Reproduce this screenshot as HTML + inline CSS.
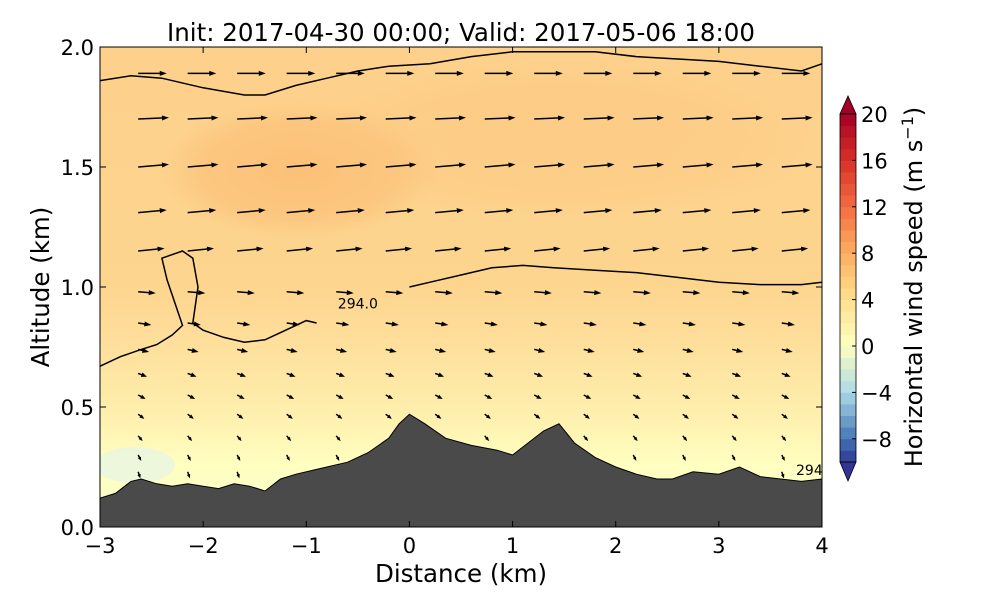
<!DOCTYPE html>
<html><head><meta charset="utf-8"><style>
body{margin:0;background:#fff;font-family:"DejaVu Sans",sans-serif}
svg text{font-family:"DejaVu Sans",sans-serif}
</style></head><body>
<svg id="c" width="1000" height="600" viewBox="0 0 1000 600">
<defs>
<linearGradient id="bg" x1="0" y1="47" x2="0" y2="527" gradientUnits="userSpaceOnUse">
<stop offset="0" stop-color="#fdd08b"/>
<stop offset="0.5" stop-color="#fdd58f"/>
<stop offset="0.66" stop-color="#fee3a0"/>
<stop offset="0.78" stop-color="#fff1b0"/>
<stop offset="0.87" stop-color="#ffffc0"/>
<stop offset="1" stop-color="#f6fbcc"/>
</linearGradient>
<radialGradient id="blob" cx="0.5" cy="0.5" r="0.5">
<stop offset="0" stop-color="#fcc078" stop-opacity="1"/>
<stop offset="0.7" stop-color="#fcc47c" stop-opacity="0.8"/>
<stop offset="1" stop-color="#fcc880" stop-opacity="0"/>
</radialGradient>
<clipPath id="pc"><rect x="100" y="47" width="722" height="480"/></clipPath>
</defs>
<text x="461" y="41" font-size="24.5" text-anchor="middle">Init: 2017-04-30 00:00; Valid: 2017-05-06 18:00</text>
<g clip-path="url(#pc)" id="plot">
<rect x="100" y="47" width="722" height="480" fill="url(#bg)"/>
<ellipse cx="300" cy="170" rx="140" ry="70" fill="url(#blob)"/>
<ellipse cx="560" cy="140" rx="260" ry="80" fill="url(#blob)" opacity="0.35"/>
<ellipse cx="135" cy="465" rx="40" ry="18" fill="#e8f5e2" opacity="0.8"/>
</g>
<rect x="100" y="47" width="722" height="480" fill="none" stroke="#000" stroke-width="1"/>
<g id="axes"></g>
<g id="cb"></g>
</svg>
<script>
const NS="http://www.w3.org/2000/svg";
const xTicks=[-3,-2,-1,0,1,2,3,4];
const yTicks=[0.0,0.5,1.0,1.5,2.0];
const terrainX=[-3,-2.85,-2.7,-2.6,-2.45,-2.3,-2.15,-2,-1.85,-1.7,-1.55,-1.4,-1.25,-1.1,-0.9,-0.6,-0.4,-0.2,-0.1,0,0.15,0.35,0.6,0.85,1.0,1.15,1.3,1.45,1.6,1.8,2.0,2.2,2.4,2.55,2.75,3.0,3.2,3.4,3.6,3.8,4];
const terrainZ=[0.12,0.14,0.19,0.2,0.18,0.17,0.18,0.17,0.16,0.18,0.17,0.15,0.2,0.22,0.24,0.27,0.31,0.37,0.43,0.47,0.43,0.37,0.34,0.32,0.3,0.35,0.4,0.43,0.35,0.29,0.25,0.22,0.2,0.2,0.23,0.22,0.25,0.21,0.2,0.19,0.2];
const contourTopX=[-3,-2.7,-2.4,-2,-1.6,-1.4,-1.1,-0.8,-0.5,-0.2,0.2,0.6,1,1.4,1.8,2.2,2.6,3,3.4,3.8,4];
const contourTopZ=[1.86,1.88,1.87,1.83,1.8,1.8,1.84,1.87,1.9,1.92,1.93,1.96,1.98,1.98,1.98,1.96,1.95,1.94,1.92,1.9,1.93];
const contourMidX=[0,0.2,0.5,0.8,1.1,1.4,1.8,2.2,2.6,3,3.4,3.8,4];
const contourMidZ=[1.0,1.02,1.05,1.08,1.09,1.08,1.07,1.06,1.04,1.02,1.01,1.01,1.02];
const contourLeftX=[-3,-2.8,-2.6,-2.45,-2.3,-2.2,-2.35,-2.4,-2.2,-2.1,-2.05,-2.1,-2.0,-1.8,-1.6,-1.4,-1.2,-1.0,-0.9];
const contourLeftZ=[0.67,0.71,0.74,0.76,0.8,0.84,1.03,1.12,1.15,1.12,1.0,0.85,0.82,0.79,0.77,0.78,0.82,0.86,0.85];
const arrowCols=[-2.63,-2.15,-1.67,-1.19,-0.71,-0.23,0.25,0.73,1.21,1.69,2.17,2.65,3.13,3.61];
const arrowRows=[1.89,1.7,1.5,1.31,1.15,0.98,0.85,0.74,0.64,0.55,0.47,0.38,0.3,0.23];
const rowU=[6.5,7,7,6.5,6,4,3,2.5,2,1.7,1.4,1.0,0.7,0.5];
const rowW=[0,0.1,0.2,0.2,0.2,-0.1,-0.15,-0.2,-0.25,-0.3,-0.35,-0.4,-0.45,-0.5];
const cbLevels=[-10,20];
const cbTicks=[-8,-4,0,4,8,12,16,20];
const X=v=>100+(v+3)*722/7, Y=v=>527-v*240;
function mk(t,a,p){const e=document.createElementNS(NS,t);for(const k in a)e.setAttribute(k,a[k]);(p||document.getElementById('c')).appendChild(e);return e;}
const plot=document.getElementById('plot');
function terrAt(x){for(let i=1;i<terrainX.length;i++){if(x<=terrainX[i]){const f=(x-terrainX[i-1])/(terrainX[i]-terrainX[i-1]);return terrainZ[i-1]+f*(terrainZ[i]-terrainZ[i-1]);}}return terrainZ[terrainZ.length-1];}
const ag=mk('g',{},plot);


arrowRows.forEach((z,r)=>{arrowCols.forEach((x,c)=>{
 if(z<terrAt(x)+0.03)return;
 const x0=X(x),y0=Y(z),sc=4.4;
 const dx=rowU[r]*sc,dy=-rowW[r]*sc*3;
 const L=Math.hypot(dx,dy); if(L<0.5)return;
 const ux=dx/L,uy=dy/L,h=Math.min(7,L*0.6),w=Math.min(2.5,L*0.25);
 const tx=x0+dx,ty=y0+dy;
 const g=mk('g',{},ag);
 
 
 mk('line',{x1:x0,y1:y0,x2:tx-ux*h*0.8,y2:ty-uy*h*0.8,stroke:'#000','stroke-width':1.5},g);
 mk('polygon',{points:`${tx},${ty} ${tx-ux*h-uy*w},${ty-uy*h+ux*w} ${tx-ux*h+uy*w},${ty-uy*h-ux*w}`,fill:'#000'},g);
});});
function cpath(xs,zs,name){const p=mk('path',{d:xs.map((x,i)=>(i?'L':'M')+X(x)+','+Y(zs[i])).join(''),fill:'none',stroke:'#000','stroke-width':1.5},plot);

}
cpath(contourTopX,contourTopZ,'theta-contour-top');
cpath(contourMidX,contourMidZ,'theta-contour-mid');
cpath(contourLeftX,contourLeftZ,'theta-contour-left');
const cl=mk('text',{x:X(-0.5),y:Y(0.91),'font-size':14,'text-anchor':'middle'},plot);cl.textContent='294.0';


const cl2=mk('text',{x:796,y:475,'font-size':14},plot);cl2.textContent='294';


const tp=mk('polygon',{points:terrainX.map((x,i)=>X(x)+','+Y(terrainZ[i])).join(' ')+` ${X(4)},${Y(0)} ${X(-3)},${Y(0)}`,fill:'#4a4a4a',stroke:'#000','stroke-width':1},plot);


const ax=document.getElementById('axes');
xTicks.forEach(v=>{const x=X(v);mk('line',{x1:x,y1:527,x2:x,y2:521,stroke:'#000'},ax);mk('line',{x1:x,y1:47,x2:x,y2:53,stroke:'#000'},ax);
 const t=mk('text',{x:x,y:553,'font-size':21,'text-anchor':'middle'},ax);t.textContent=(v<0?'\u2212'+(-v):v);
 
 });
yTicks.forEach(v=>{const y=Y(v);mk('line',{x1:100,y1:y,x2:106,y2:y,stroke:'#000'},ax);mk('line',{x1:822,y1:y,x2:816,y2:y,stroke:'#000'},ax);
 const t=mk('text',{x:94,y:y+8,'font-size':21,'text-anchor':'end'},ax);t.textContent=v.toFixed(1);
 
 });
const xt=mk('text',{x:461,y:582,'font-size':24.5,'text-anchor':'middle'},ax);xt.textContent='Distance (km)';


const yt=mk('text',{x:0,y:0,'font-size':24.5,'text-anchor':'middle',transform:'translate(49,287) rotate(-90)'},ax);yt.textContent='Altitude (km)';


const stops=[[-10,[49,54,149]],[-8,[69,117,180]],[-4,[171,217,233]],[0,[255,255,191]],[4,[254,224,144]],[8,[253,174,97]],[12,[244,109,67]],[16,[215,48,39]],[20,[165,0,38]]];
function col(v){for(let i=1;i<stops.length;i++){if(v<=stops[i][0]){const a=stops[i-1],b=stops[i],f=(v-a[0])/(b[0]-a[0]);return 'rgb('+a[1].map((c,k)=>Math.round(c+f*(b[1][k]-c))).join(',')+')';}}return 'rgb(165,0,38)';}
const cb=document.getElementById('cb');


const CY=v=>346-v*11.6, cx0=840,cw=16;
for(let v=cbLevels[0];v<cbLevels[1];v++){mk('rect',{x:cx0,y:CY(v+1),width:cw,height:11.6+0.4,fill:col(v+0.5)},cb);}
mk('polygon',{points:`${cx0},${CY(20)} ${cx0+cw},${CY(20)} ${cx0+cw/2},${CY(20)-18}`,fill:col(20),stroke:'#000','stroke-width':0.8},cb);
mk('polygon',{points:`${cx0},${CY(-10)} ${cx0+cw},${CY(-10)} ${cx0+cw/2},${CY(-10)+19}`,fill:col(-10),stroke:'#000','stroke-width':0.8},cb);
mk('rect',{x:cx0,y:CY(20),width:cw,height:CY(-10)-CY(20),fill:'none',stroke:'#000','stroke-width':0.8},cb);
cbTicks.forEach(v=>{const y=CY(v);mk('line',{x1:cx0+cw-4,y1:y,x2:cx0+cw,y2:y,stroke:'#000'},cb);
 const t=mk('text',{x:861,y:y+8,'font-size':21},cb);t.textContent=(v<0?'\u2212'+(-v):v);
 
 });
const ct=mk('text',{x:0,y:0,'font-size':24,'text-anchor':'middle',transform:'translate(922,287) rotate(-90)'},cb);
ct.innerHTML='Horizontal wind speed (m s<tspan dy="-9" font-size="16">\u22121</tspan><tspan dy="9">)</tspan>';


</script>
</body></html>
